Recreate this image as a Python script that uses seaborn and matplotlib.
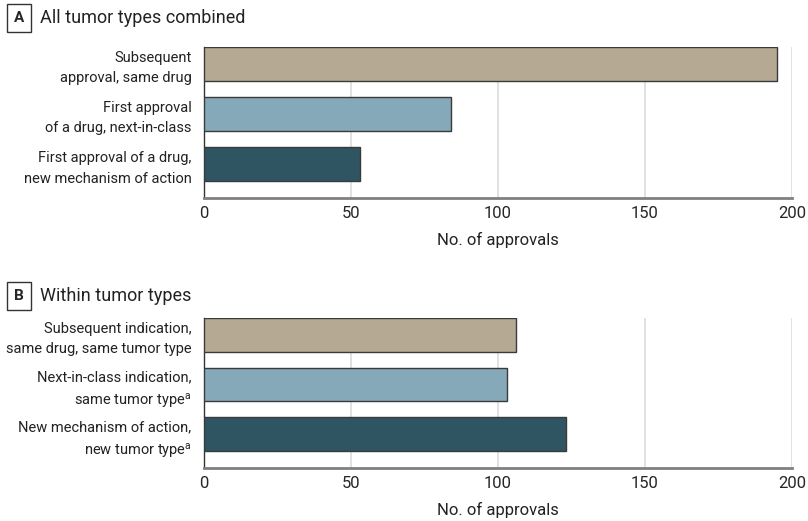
import matplotlib
matplotlib.use("Agg")
import matplotlib.pyplot as plt
from matplotlib import font_manager
import seaborn as sns
import pandas as pd

# Panel A: all tumor types combined
cats_a = ["Subsequent\napproval, same drug",
          "First approval\nof a drug, next-in-class",
          "First approval of a drug,\nnew mechanism of action"]
vals_a = [195, 84, 53]

# Panel B: within tumor types
cats_b = ["Subsequent indication,\nsame drug, same tumor type",
          "Next-in-class indication,\nsame tumor type$^{a}$",
          "New mechanism of action,\nnew tumor type$^{a}$"]
vals_b = [106, 103, 123]

colors = ["#b5a994", "#85a9b8", "#2f5563"]
xticks = [0, 50, 100, 150, 200]

installed = {f.name for f in font_manager.fontManager.ttflist}
if 'Liberation Sans Narrow' in installed:
    FONT, SZ = 'Liberation Sans Narrow', 12.5
else:
    FONT, SZ = 'Roboto', 10.5

sns.set_theme(style="white")
plt.rcParams['font.family'] = [FONT, 'DejaVu Sans']
plt.rcParams['mathtext.default'] = 'regular'
plt.rcParams['mathtext.fontset'] = 'custom'
plt.rcParams['mathtext.rm'] = FONT

fig = plt.figure(figsize=(8.08, 5.21), dpi=100)
ax_a = fig.add_axes([0.2525, 0.620, 0.7275, 0.290])
ax_b = fig.add_axes([0.2525, 0.1017, 0.7275, 0.288])


def draw_panel(ax, cats, vals, letter, title, title_y):
    df = pd.DataFrame({'cat': cats, 'val': vals})
    sns.barplot(data=df, y='cat', x='val', hue='cat', palette=colors,
                saturation=1, orient='h', width=0.68, edgecolor='#3a3a3a',
                linewidth=1.0, legend=False, ax=ax, zorder=3)
    ax.set_xlim(0, 200)
    ax.set_ylim(2.68, -0.34)
    ax.set_xticks(xticks)
    ax.set_xticklabels([str(t) for t in xticks], fontsize=SZ + 1.5, family=FONT)
    ax.tick_params(axis='y', length=0, pad=9)
    ax.tick_params(axis='x', length=0, pad=6)
    for lab in ax.get_yticklabels():
        lab.set_fontfamily(FONT)
        lab.set_fontsize(SZ)
        lab.set_horizontalalignment('right')
        lab.set_linespacing(1.55)
        lab.set_color('#222222')
    ax.set_ylabel('')
    ax.set_xlabel('No. of approvals', fontsize=SZ + 1.5, family=FONT, labelpad=8,
                  color='#222222')
    ax.xaxis.grid(True, color='#dcdcdc', linewidth=1.2, zorder=0)
    ax.yaxis.grid(False)
    for s in ['top', 'right']:
        ax.spines[s].set_visible(False)
    ax.spines['left'].set_color('#333333')
    ax.spines['left'].set_linewidth(1.0)
    ax.spines['bottom'].set_color('#808080')
    ax.spines['bottom'].set_linewidth(2.0)
    fig.text(0.0235, title_y, letter, fontsize=SZ + 0.5, fontweight='bold',
             family=FONT, ha='center', va='center',
             bbox=dict(boxstyle='square,pad=0.45', fc='white', ec='#333333', lw=1.0))
    fig.text(0.050, title_y, title, fontsize=SZ + 2.5, family=FONT,
             ha='left', va='center', color='#222222')


draw_panel(ax_a, cats_a, vals_a, 'A', 'All tumor types combined', 0.965)
draw_panel(ax_b, cats_b, vals_b, 'B', 'Within tumor types', 0.432)

fig.savefig('out.png', dpi=100)
